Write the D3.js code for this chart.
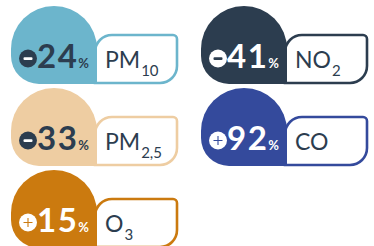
<!DOCTYPE html>
<html>
<head>
<meta charset="utf-8">
<script src="https://cdn.jsdelivr.net/npm/d3@7"></script>
<style>
  body { margin: 0; background: #fff; }
  svg { display: block; }
</style>
</head>
<body>
<div id="chart"></div>
<script>
// pollutant names, split into main part and subscript
const names = ["PM", "NO", "PM", "CO", "O"];
const subs = ["10", "2", "2,5", "", "3"];
const changes = [-24, -41, -33, 92, 15];
const colors = ["#6cb5cc", "#2c3d4f", "#eecda2", "#344a9c", "#cb7a0f"];
const darkText = "#2c3d4f";

const data = names.map((n, i) => ({
  name: n, sub: subs[i], value: changes[i], color: colors[i],
  col: i % 2, row: Math.floor(i / 2),
  light: i === 0 || i === 2
}));

const width = 374, height = 246;

const svg = d3.select("#chart")
  .append("svg")
  .attr("width", width)
  .attr("height", height);

// grid of badges
const x = d3.scaleLinear().domain([0, 1]).range([11, 201]);
const y = d3.scaleLinear().domain([0, 2]).range([6, 170]);

const bw = 86, bh = 78;      // blob
const rT = 43, rB = 28;

function blobPath() {
  const p = d3.path();
  p.moveTo(0, rT);
  p.arcTo(0, 0, rT, 0, rT);
  p.arcTo(bw, 0, bw, rT, rT);
  p.lineTo(bw, bh);
  p.lineTo(rB, bh);
  p.arcTo(0, bh, 0, bh - rB, rB);
  p.closePath();
  return p.toString();
}

function labelPath() {
  const l = 84, r = 166, t = 29, b = 77;
  const r1 = 17, r2 = 4;
  const p = d3.path();
  p.moveTo(l, b);
  p.lineTo(l, t + r1);
  p.arcTo(l, t, l + r1, t, r1);
  p.lineTo(r - r2, t);
  p.arcTo(r, t, r, t + r2, r2);
  p.lineTo(r, b - r1);
  p.arcTo(r, b, r - r1, b, r1);
  p.closePath();
  return p.toString();
}

const badge = svg.selectAll("g.badge")
  .data(data)
  .enter()
  .append("g")
  .attr("class", "badge")
  .attr("transform", d => `translate(${x(d.col)},${y(d.row)})`);

badge.append("path")
  .attr("d", labelPath())
  .attr("fill", "#fff")
  .attr("stroke", d => d.color)
  .attr("stroke-width", 2.6);

badge.append("path")
  .attr("d", blobPath())
  .attr("fill", d => d.color);

// sign circle
badge.append("circle")
  .attr("cx", 17)
  .attr("cy", 52.5)
  .attr("r", 9)
  .attr("fill", d => d.light ? darkText : "#fff");

badge.filter(d => d.value < 0)
  .append("rect")
  .attr("x", 12.5)
  .attr("y", 51.2)
  .attr("width", 9)
  .attr("height", 2.8)
  .attr("rx", 1)
  .attr("fill", d => d.light ? "#fff" : darkText);

badge.filter(d => d.value > 0)
  .append("path")
  .attr("d", "M12.5,52.5H21.5M17,48V57")
  .attr("stroke", d => d.color)
  .attr("stroke-width", 1.1);

// value
const num = badge.append("text")
  .attr("x", 26)
  .attr("y", 62)
  .attr("font-family", "Lato, sans-serif")
  .attr("fill", d => d.light ? darkText : "#fff");

num.append("tspan")
  .attr("font-size", 33)
  .attr("font-weight", 700)
  .attr("letter-spacing", 1.5)
  .text(d => Math.abs(d.value));

num.append("tspan")
  .attr("dx", 0)
  .attr("font-size", 13)
  .attr("font-weight", 700)
  .text("%");

// pollutant label
const lab = badge.append("text")
  .attr("x", 94)
  .attr("y", 62)
  .attr("font-family", "Lato, sans-serif")
  .attr("fill", darkText);

lab.append("tspan")
  .attr("font-size", 23)
  .text(d => d.name);

lab.append("tspan")
  .attr("font-size", 15)
  .attr("dx", 1)
  .attr("dy", 8)
  .text(d => d.sub);
</script>
</body>
</html>
